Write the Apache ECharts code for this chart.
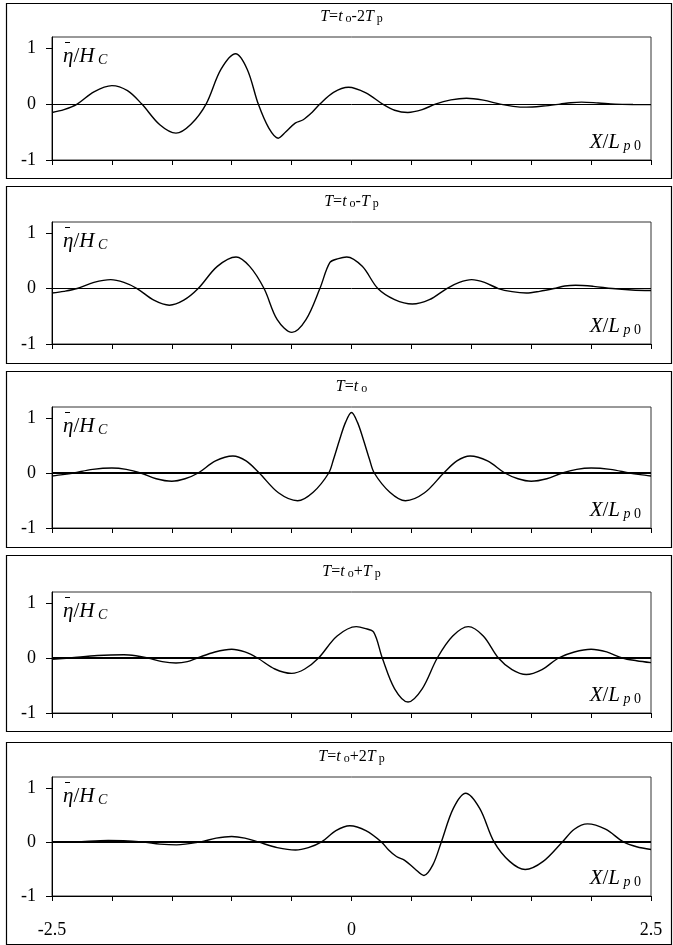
<!DOCTYPE html>
<html>
<head>
<meta charset="utf-8">
<script src="https://cdn.jsdelivr.net/npm/echarts@6/dist/echarts.min.js"></script>
<style>
html,body{margin:0;padding:0;background:#fff;}
#c{width:673px;height:945px;}
</style>
</head>
<body>
<div id="c"></div>
<script>
// ---- data ----
const xTickLabels = [-2.5, 0, 2.5];
const yTickValues = [-1, 0, 1];

// T = t_o - 2T_p
const x1 = [-2.5, -2.4, -2.29, -2.15, -2.0, -1.87, -1.75, -1.6, -1.465, -1.34, -1.214, -1.09, -0.967, -0.87, -0.778, -0.69, -0.612, -0.55, -0.47, -0.403, -0.33, -0.264, -0.15, -0.025, 0.12, 0.26, 0.36, 0.47, 0.59, 0.7, 0.83, 0.96, 1.1, 1.24, 1.35, 1.46, 1.6, 1.74, 1.83, 1.92, 2.06, 2.2, 2.35, 2.5];
const y1 = [-0.15, -0.10, 0, 0.22, 0.33, 0.24, 0, -0.37, -0.52, -0.36, 0, 0.62, 0.90, 0.62, 0, -0.43, -0.61, -0.50, -0.34, -0.28, -0.15, 0, 0.21, 0.30, 0.20, 0, -0.11, -0.15, -0.10, 0, 0.075, 0.105, 0.07, 0, -0.04, -0.055, -0.035, 0, 0.025, 0.036, 0.02, 0, -0.008, -0.01];

// T = t_o - T_p
const x2 = [-2.5, -2.4, -2.29, -2.15, -2.01, -1.9, -1.79, -1.65, -1.52, -1.4, -1.28, -1.12, -0.964, -0.85, -0.73, -0.62, -0.497, -0.38, -0.264, -0.18, -0.11, -0.04, 0.09, 0.22, 0.36, 0.508, 0.65, 0.795, 0.9, 1.003, 1.11, 1.226, 1.34, 1.459, 1.57, 1.69, 1.78, 1.87, 2.02, 2.177, 2.34, 2.5];
const y2 = [-0.08, -0.05, 0, 0.11, 0.16, 0.11, 0, -0.21, -0.30, -0.21, 0, 0.40, 0.57, 0.40, 0, -0.56, -0.79, -0.56, 0, 0.47, 0.54, 0.57, 0.40, 0, -0.20, -0.28, -0.20, 0, 0.11, 0.16, 0.11, 0, -0.056, -0.08, -0.05, 0, 0.045, 0.06, 0.04, 0, -0.025, -0.035];

// T = t_o
const x3 = [-2.5, -2.41, -2.32, -2.16, -2.0, -1.88, -1.76, -1.63, -1.5, -1.39, -1.28, -1.135, -0.99, -0.88, -0.77, -0.61, -0.45, -0.32, -0.19, -0.15, -0.1, -0.05, 0, 0.05, 0.1, 0.15, 0.19, 0.32, 0.45, 0.61, 0.77, 0.88, 0.99, 1.135, 1.28, 1.39, 1.5, 1.63, 1.76, 1.88, 2.0, 2.16, 2.32, 2.41, 2.5];
const y3 = [-0.055, -0.03, 0, 0.065, 0.09, 0.065, 0, -0.105, -0.15, -0.105, 0, 0.22, 0.31, 0.22, 0, -0.36, -0.505, -0.35, 0, 0.25, 0.60, 0.92, 1.10, 0.92, 0.60, 0.25, 0, -0.35, -0.505, -0.36, 0, 0.22, 0.31, 0.22, 0, -0.105, -0.15, -0.105, 0, 0.065, 0.09, 0.065, 0, -0.03, -0.055];

// T = t_o + T_p
const x4 = [-2.5, -2.35, -2.12, -1.9, -1.8, -1.7, -1.58, -1.465, -1.37, -1.287, -1.14, -1.0, -0.89, -0.785, -0.64, -0.5, -0.39, -0.275, -0.12, 0.04, 0.11, 0.185, 0.257, 0.36, 0.472, 0.59, 0.716, 0.845, 0.975, 1.1, 1.226, 1.34, 1.459, 1.59, 1.728, 1.86, 2.0, 2.13, 2.26, 2.38, 2.5];
const y4 = [-0.025, 0, 0.045, 0.06, 0.04, 0, -0.065, -0.09, -0.065, 0, 0.11, 0.16, 0.11, 0, -0.20, -0.28, -0.20, 0, 0.40, 0.57, 0.54, 0.47, 0, -0.56, -0.80, -0.56, 0, 0.40, 0.57, 0.40, 0, -0.21, -0.30, -0.21, 0, 0.11, 0.16, 0.11, 0, -0.05, -0.085];

// T = t_o + 2T_p
const x5 = [-2.5, -2.3, -2.03, -1.75, -1.6, -1.46, -1.26, -1.13, -1.0, -0.89, -0.78, -0.62, -0.467, -0.36, -0.25, -0.13, -0.014, 0.12, 0.25, 0.31, 0.375, 0.444, 0.53, 0.605, 0.68, 0.75, 0.85, 0.953, 1.07, 1.19, 1.32, 1.45, 1.6, 1.76, 1.86, 1.97, 2.12, 2.27, 2.38, 2.5];
const y5 = [-0.005, 0, 0.025, 0, -0.04, -0.055, 0, 0.07, 0.10, 0.07, 0, -0.105, -0.15, -0.105, 0, 0.21, 0.30, 0.21, 0, -0.15, -0.27, -0.34, -0.50, -0.62, -0.42, 0, 0.62, 0.90, 0.62, 0, -0.36, -0.51, -0.36, 0, 0.235, 0.333, 0.235, 0, -0.09, -0.14];

const titles = [
  '{i|T}{n|=}{i|t}{s| o}{n|-2}{i|T}{s| p}',
  '{i|T}{n|=}{i|t}{s| o}{n|-}{i|T}{s| p}',
  '{i|T}{n|=}{i|t}{s| o}',
  '{i|T}{n|=}{i|t}{s| o}{n|+}{i|T}{s| p}',
  '{i|T}{n|=}{i|t}{s| o}{n|+2}{i|T}{s| p}'
];
const yName = '{i|\u03B7}{n|/}{i|H}{si| C}';
const xName = '{i|X}{n|/}{i|L}{si| p}{s| 0}';

// ---- layout ----
const xs = [x1, x2, x3, x4, x5];
const ys = [y1, y2, y3, y4, y5];
const zeroWidths = [1, 1, 1.8, 1.8, 1.8];
const gridTops = [37, 222, 407, 592, 777];
const gridHeights = [123, 122, 121, 121, 119];
const boxTops = [3, 186, 371, 555, 742];
const boxBottoms = [178, 363, 547, 731, 944];
const gridLeft = 52, gridWidth = 599;
const FONT = '"Liberation Serif", "Times New Roman", serif';

function rich(big, small, lh, slh) {
  return {
    i: {fontFamily: FONT, fontStyle: 'italic', fontSize: big, color: '#000', verticalAlign: 'bottom', lineHeight: lh},
    n: {fontFamily: FONT, fontSize: big, color: '#000', verticalAlign: 'bottom', lineHeight: lh},
    s: {fontFamily: FONT, fontSize: small, color: '#000', verticalAlign: 'bottom', lineHeight: slh},
    si: {fontFamily: FONT, fontStyle: 'italic', fontSize: small, color: '#000', verticalAlign: 'bottom', lineHeight: slh}
  };
}
const richTitle = rich(16, 12, 19, 14);
const richLbl = rich(21, 14, 24, 16);

const grids = [], xAxes = [], yAxes = [], series = [], graphics = [];
for (let k = 0; k < 5; k++) {
  grids.push({left: gridLeft, top: gridTops[k], width: gridWidth, height: gridHeights[k],
    show: true, borderColor: '#333', borderWidth: 1, backgroundColor: 'transparent'});
  xAxes.push({
    type: 'value', gridIndex: k, min: -2.5, max: 2.5, interval: 0.5,
    axisLine: {onZero: false, lineStyle: {color: '#000', width: 1}},
    axisTick: {show: true, inside: false, length: 5, lineStyle: {color: '#000'}},
    axisLabel: k === 4 ? {show: true, customValues: xTickLabels, margin: 25,
      fontFamily: FONT, fontSize: 18, color: '#000',
      formatter: v => String(v)} : {show: false},
    splitLine: {show: false}
  });
  yAxes.push({
    type: 'value', gridIndex: k, min: -1, max: 1.2,
    axisLine: {show: true, onZero: false, lineStyle: {color: '#000', width: 1}},
    axisTick: {show: true, inside: false, length: 6, customValues: yTickValues, lineStyle: {color: '#000'}},
    axisLabel: {show: true, customValues: yTickValues, margin: 16, fontFamily: FONT, fontSize: 18, color: '#000'},
    splitLine: {show: false}
  });
  series.push({
    type: 'line', xAxisIndex: k, yAxisIndex: k,
    data: xs[k].map((x, j) => [x, ys[k][j]]),
    showSymbol: false, smooth: 0.33, silent: true,
    lineStyle: {color: '#000', width: 1.4},
    markLine: {silent: true, symbol: 'none', label: {show: false},
      lineStyle: {color: '#000', width: zeroWidths[k], type: 'solid'},
      data: [{yAxis: 0}]}
  });
  graphics.push({type: 'rect', shape: {x: 6.5, y: boxTops[k] + 0.5, width: 665, height: boxBottoms[k] - boxTops[k]},
    style: {fill: 'none', stroke: '#000', lineWidth: 1.2}, silent: true});
  graphics.push({type: 'text', x: gridLeft + gridWidth / 2, y: gridTops[k] - 22,
    style: {text: titles[k], rich: richTitle, align: 'center', verticalAlign: 'middle'}, silent: true});
  graphics.push({type: 'text', x: gridLeft + 11, y: gridTops[k] + 18,
    style: {text: yName, rich: richLbl, align: 'left', verticalAlign: 'middle'}, silent: true});
  // macron over eta
  graphics.push({type: 'line', shape: {x1: gridLeft + 13, y1: gridTops[k] + 5.5, x2: gridLeft + 18, y2: gridTops[k] + 5.5},
    style: {stroke: '#000', lineWidth: 1}, silent: true});
  graphics.push({type: 'text', x: gridLeft + gridWidth - 10, y: gridTops[k] + gridHeights[k] - 19,
    style: {text: xName, rich: richLbl, align: 'right', verticalAlign: 'middle'}, silent: true});
}

const chart = echarts.init(document.getElementById('c'), null, {renderer: 'canvas'});
chart.setOption({
  animation: false,
  backgroundColor: '#fff',
  grid: grids, xAxis: xAxes, yAxis: yAxes, series: series, graphic: graphics
});
</script>
</body>
</html>
